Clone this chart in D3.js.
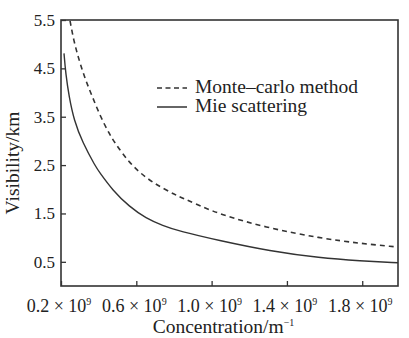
<!DOCTYPE html>
<html>
<head>
<meta charset="utf-8">
<script src="https://cdn.jsdelivr.net/npm/d3@7"></script>
<style>
  body { margin: 0; background: #fff; }
  text { font-family: "Liberation Serif", "DejaVu Serif", serif; fill: #222; }
</style>
</head>
<body>
<script>
// concentration in units of 10^9 m^-1, visibility in km
var mieConc = [0.216, 0.225, 0.243, 0.269, 0.314, 0.385, 0.403, 0.474, 0.563, 0.652, 0.74, 0.83, 1.04, 1.31, 1.576, 1.79, 1.99];
var mieVis  = [4.81, 4.39, 3.91, 3.43, 2.97, 2.46, 2.36, 1.98, 1.64, 1.40, 1.25, 1.13, 0.94, 0.72, 0.58, 0.52, 0.48];

var mcConc = [0.248, 0.269, 0.296, 0.33, 0.367, 0.41, 0.456, 0.483, 0.563, 0.652, 0.74, 0.83, 0.90, 1.04, 1.31, 1.576, 1.79, 1.976];
var mcVis  = [5.48, 5.05, 4.67, 4.26, 3.91, 3.50, 3.15, 2.98, 2.54, 2.23, 2.02, 1.84, 1.73, 1.48, 1.19, 0.99, 0.88, 0.81];

var xTicks = [0.2, 0.6, 1.0, 1.4, 1.8];
var yTicks = [0.5, 1.5, 2.5, 3.5, 4.5, 5.5];
var seriesNames = ["Monte\u2013carlo method", "Mie scattering"];

var margin = { top: 20, right: 11, bottom: 52, left: 61 },
    width = 409 - margin.left - margin.right,
    height = 338 - margin.top - margin.bottom;

var svg = d3.select("body").append("svg")
    .attr("width", 409)
    .attr("height", 338)
    .append("g")
    .attr("transform", "translate(" + margin.left + "," + margin.top + ")");

var xScale = d3.scaleLinear().domain([0.2, 1.99]).range([0, width]);
var yScale = d3.scaleLinear().domain([0, 5.5]).range([height, 0]);

var line = d3.line()
    .x(function (d) { return xScale(d[0]); })
    .y(function (d) { return yScale(d[1]); })
    .curve(d3.curveBasis);

var mcData = mcConc.map(function (c, i) { return [c, mcVis[i]]; });
var mieData = mieConc.map(function (c, i) { return [c, mieVis[i]]; });

svg.append("path")
    .datum(mcData)
    .attr("fill", "none")
    .attr("stroke", "#333")
    .attr("stroke-width", 1.6)
    .attr("stroke-dasharray", "5,4")
    .attr("d", line);

svg.append("path")
    .datum(mieData)
    .attr("fill", "none")
    .attr("stroke", "#333")
    .attr("stroke-width", 1.4)
    .attr("d", line);

// frame
svg.append("rect")
    .attr("width", width)
    .attr("height", height)
    .attr("fill", "none")
    .attr("stroke", "#333")
    .attr("stroke-width", 1.6);

// y axis, ticks inward
var yAxis = svg.append("g")
    .call(d3.axisLeft(yScale).tickValues(yTicks).tickSize(-5).tickPadding(6)
        .tickFormat(d3.format(".1f")));
yAxis.select(".domain").remove();
yAxis.selectAll(".tick line").attr("stroke", "#333").attr("stroke-width", 1.3);
yAxis.selectAll("text")
    .style("font-family", "Liberation Serif")
    .style("font-size", "17px")
    .attr("fill", "#222");

// x axis, ticks inward, labels built by hand for the exponent
var xAxis = svg.append("g")
    .attr("transform", "translate(0," + height + ")")
    .call(d3.axisBottom(xScale).tickValues(xTicks).tickSize(-5).tickFormat(""));
xAxis.select(".domain").remove();
xAxis.selectAll(".tick line").attr("stroke", "#333").attr("stroke-width", 1.3);

var xl = svg.append("g").selectAll("text")
    .data(xTicks)
    .enter().append("text")
    .attr("x", function (d) { return xScale(d) - 2; })
    .attr("y", height + 26)
    .attr("text-anchor", "middle")
    .style("font-size", "18px");
xl.append("tspan").text(function (d) { return d3.format(".1f")(d) + " \u00d7 10"; });
xl.append("tspan").attr("dy", -7).style("font-size", "10px").text("9");

// axis titles
var xt = svg.append("text")
    .attr("x", width / 2 - 6)
    .attr("y", height + 47)
    .attr("text-anchor", "middle")
    .style("font-size", "19.5px");
xt.append("tspan").text("Concentration/m");
xt.append("tspan").attr("dy", -7).style("font-size", "10px").text("\u22121");

svg.append("text")
    .attr("transform", "translate(" + (-42) + "," + (height / 2 + 10) + ") rotate(-90)")
    .attr("text-anchor", "middle")
    .style("font-size", "19.5px")
    .text("Visibility/km");

// legend
var legend = svg.append("g").attr("transform", "translate(96,68)");
legend.selectAll("line")
    .data(seriesNames)
    .enter().append("line")
    .attr("x1", 0).attr("x2", 30)
    .attr("y1", function (d, i) { return i * 19; })
    .attr("y2", function (d, i) { return i * 19; })
    .attr("stroke", "#333")
    .attr("stroke-width", 1.5)
    .attr("stroke-dasharray", function (d, i) { return i === 0 ? "5,3.5" : null; });
legend.selectAll("text")
    .data(seriesNames)
    .enter().append("text")
    .attr("x", 38)
    .attr("y", function (d, i) { return i * 19 + 5; })
    .style("font-size", "19.5px")
    .text(function (d) { return d; });
</script>
</body>
</html>
